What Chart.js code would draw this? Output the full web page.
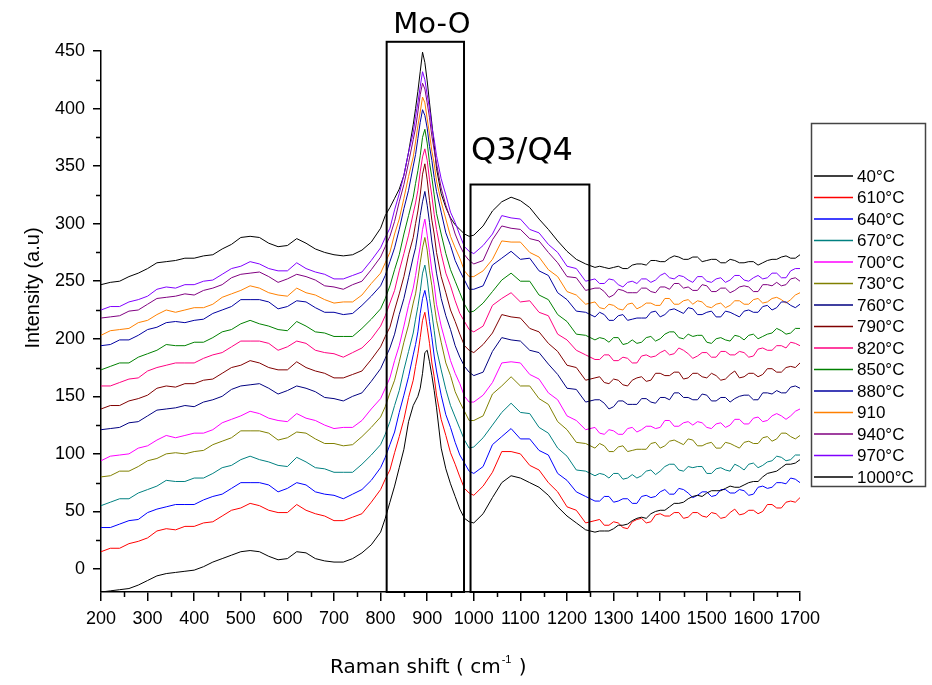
<!DOCTYPE html>
<html>
<head>
<meta charset="utf-8">
<script src="https://cdn.jsdelivr.net/npm/chart.js@4.4.1/dist/chart.umd.min.js"></script>
<style>
  html, body { margin: 0; padding: 0; background: #ffffff; }
  canvas { display: block; }
</style>
</head>
<body>
<canvas id="raman" width="932" height="685"></canvas>
<script>
// Raman shift (cm-1) sampling shared by all spectra
const wavenumber = [
  200,220,240,260,280,300,320,340,360,380,400,420,440,460,480,500,520,540,560,580,600,620,640,660,680,700,720,740,760,780,800,
  810,820,830,840,850,860,870,875,880,885,890,895,900,905,910,915,920,930,940,950,960,970,980,990,1000,
  1020,1040,1060,1080,1100,1120,1140,1160,1180,1200,1220,1240,
  1260,1270,1280,1290,1300,1310,1320,1330,1340,1350,1360,1370,1380,1390,1400,1410,1420,1430,1440,1450,1460,1470,1480,1490,1500,
  1510,1520,1530,1540,1550,1560,1570,1580,1590,1600,1610,1620,1630,1640,1650,1660,1670,1680,1690,1700
];

// Intensities (a.u.), one stacked spectrum per temperature
const t40 = [-20,-19,-18,-17,-14,-10,-6,-4,-3,-2,-1,2,6,9,12,15,16,15,11,8,9,15,14,9,7,6,6,9,14,21,32,
  44,58,72,88,104,128,142,146,150,157,170,188,190,180,168,155,140,105,87,74,63,52,44,41,40,
  48,62,75,81,79,75,71,64,54,46,40,34,
  32,33,33,33,35,38,38,39,42,44,45,44,48,50,51,51,54,57,57,58,61,63,64,63,66,68,68,68,70,72,71,71,73,75,76,76,80,83,84,85,88,91,91,92,95];
const t610 = [15,18,18,22,24,27,33,35,34,37,37,40,41,46,51,53,57,55,51,49,49,56,51,48,46,42,42,45,48,58,69,
  78,86,101,115,130,149,164,176,187,201,216,223,210,196,179,167,151,130,116,101,91,80,70,66,64,
  72,84,102,102,100,90,86,75,67,54,51,40,
  42,43,38,38,41,40,36,35,41,43,44,40,41,47,48,46,46,49,49,44,45,49,49,46,45,49,48,44,45,49,52,47,48,51,51,48,50,56,56,53,53,58,59,58,62];
const t640 = [36,36,39,42,43,49,52,54,56,56,56,60,63,65,70,75,75,75,73,67,70,75,73,67,65,64,61,65,69,77,88,
  97,108,119,136,151,167,186,195,206,222,235,242,232,215,201,185,172,151,134,123,110,99,92,85,83,
  89,108,115,122,113,113,103,99,83,77,67,63,
  59,59,63,63,58,59,61,61,57,57,63,64,62,63,67,69,65,65,70,69,66,62,64,67,67,63,64,69,69,66,66,69,68,64,65,71,72,70,71,75,75,74,79,78,75];
const t670 = [55,58,61,61,66,69,72,77,76,76,79,79,83,88,90,95,98,95,93,90,89,97,93,88,87,84,84,84,91,99,108,
  117,128,142,155,173,189,205,217,228,241,257,264,252,235,222,207,191,173,156,142,132,122,112,105,106,
  114,125,136,144,136,135,123,118,105,98,86,85,
  81,83,82,79,83,83,78,79,82,79,81,85,86,82,85,89,91,91,86,85,89,88,89,89,83,83,87,88,86,85,91,89,86,91,92,88,90,93,94,98,97,94,95,99,99];
const t700 = [94,98,99,100,105,107,112,116,114,116,118,118,121,127,130,133,137,135,131,129,128,135,131,129,125,122,123,123,129,139,148,
  157,166,181,194,211,229,244,255,268,280,295,304,290,275,259,247,230,211,196,181,170,161,150,145,145,
  151,162,179,180,179,169,165,153,147,133,129,121,
  123,118,117,121,120,117,117,122,123,119,121,124,124,122,123,129,129,124,124,127,128,125,128,127,123,122,126,127,123,125,130,130,126,126,131,132,128,129,133,135,133,130,133,137,139];
const t730 = [80,81,85,85,89,94,96,100,101,100,102,103,108,111,114,120,120,120,118,112,114,119,118,113,109,109,107,108,115,123,132,
  141,153,164,180,197,212,231,239,252,266,279,288,277,259,246,230,216,197,179,168,154,145,137,129,129,
  133,152,159,167,159,159,148,143,128,121,110,109,
  105,109,107,102,102,106,107,102,103,104,104,104,109,110,105,107,111,112,110,108,113,112,107,107,109,110,105,105,110,109,107,105,110,111,109,109,114,115,111,113,118,118,115,113,116];
const t760 = [121,122,123,127,128,133,138,139,140,142,141,145,147,150,156,159,160,161,157,152,155,159,157,154,149,148,146,150,153,163,174,
  183,192,204,221,235,253,271,279,292,307,319,328,316,301,284,271,257,235,220,208,194,184,176,171,168,
  171,189,201,199,198,190,188,178,169,157,156,145,
  147,147,144,139,141,146,146,143,143,143,148,148,145,144,149,149,147,153,153,149,149,147,147,152,151,146,146,149,149,145,148,150,151,151,147,147,153,153,152,155,153,153,158,159,157];
const t790 = [139,142,142,146,148,151,157,159,158,161,161,164,165,170,175,177,181,179,175,173,173,180,175,172,170,166,166,169,172,182,193,
  202,210,225,239,254,273,288,300,311,325,343,352,338,320,303,291,275,254,240,225,215,204,194,190,188,
  195,205,221,219,218,209,206,196,189,177,175,164,
  166,167,162,161,165,164,160,159,164,166,167,163,164,170,170,168,168,171,171,165,166,170,170,167,166,170,168,164,165,169,172,166,167,170,170,167,169,174,174,171,171,175,176,175,179];
const t820 = [159,159,162,165,166,172,175,177,179,179,179,183,186,188,193,198,198,198,196,190,193,198,196,190,188,187,184,188,192,200,211,
  220,231,242,259,274,290,309,318,329,345,358,365,355,338,324,308,295,274,257,246,233,222,215,208,206,
  211,229,235,240,232,233,223,220,204,199,190,186,
  182,182,186,186,181,181,184,183,179,179,185,186,184,185,188,190,186,187,192,190,187,183,185,188,188,184,184,189,189,186,186,189,188,184,185,191,192,190,190,194,194,192,197,196,194];
const t850 = [173,176,179,179,184,187,190,195,194,194,197,197,201,206,208,213,216,213,211,208,207,215,211,206,205,202,202,202,209,217,226,
  235,246,260,273,291,307,323,335,346,359,375,382,370,353,340,325,309,291,274,260,250,240,230,223,224,
  231,241,251,257,250,250,238,234,221,215,204,203,
  199,201,200,197,201,201,195,196,199,196,197,201,202,198,200,204,206,206,201,200,204,202,203,203,197,196,200,201,199,198,203,202,199,203,204,200,202,204,205,209,207,204,205,209,209];
const t880 = [194,195,199,199,203,208,210,214,215,214,216,217,222,225,228,234,234,234,232,226,228,233,232,227,223,223,221,222,229,237,246,
  255,267,279,295,313,329,350,360,374,388,399,394,383,367,355,340,328,310,292,281,268,259,251,243,243,
  246,264,270,276,269,270,259,255,240,234,224,223,
  219,223,221,216,216,220,221,216,217,218,218,218,223,224,219,221,225,226,224,222,227,226,221,221,223,224,219,219,224,223,221,219,224,225,223,223,228,229,225,227,232,232,229,227,230];
const t910 = [203,207,208,209,214,216,221,225,223,225,227,227,230,236,239,242,246,244,240,238,237,244,240,238,234,231,232,232,238,248,257,
  266,275,291,304,322,341,358,371,385,397,410,405,391,378,363,352,337,319,304,289,279,270,259,254,254,
  259,269,285,284,284,275,271,260,254,241,238,230,
  232,227,226,230,229,226,225,230,231,226,228,231,231,229,229,235,235,230,230,233,234,230,233,232,228,227,230,231,227,229,233,233,230,230,234,235,231,232,235,236,234,231,234,238,240];
const t940 = [218,219,220,224,225,230,235,236,237,239,238,242,244,247,253,256,257,258,254,249,252,256,254,251,246,245,243,247,250,260,271,
  280,289,302,319,334,353,373,383,397,412,422,417,405,392,376,364,352,331,316,304,291,281,273,268,265,
  268,286,298,296,295,287,285,275,266,254,253,242,
  244,244,241,236,238,243,242,240,240,240,244,244,241,240,245,245,243,248,248,244,245,242,242,247,246,241,241,244,244,240,242,245,246,245,241,241,247,247,246,249,246,247,252,253,250];
const t970 = [225,228,228,232,234,237,243,245,244,247,247,250,251,256,261,263,267,265,261,259,259,266,261,258,256,252,252,255,258,268,279,
  288,296,312,326,342,362,379,393,405,419,432,425,412,400,384,373,359,339,325,310,301,290,280,276,274,
  281,291,307,305,304,295,292,282,275,263,261,250,
  252,248,248,252,251,247,245,249,250,248,252,252,249,251,255,257,253,252,255,254,251,249,254,254,250,249,252,253,249,251,255,255,251,250,253,255,252,253,257,257,253,253,259,261,261];
const t1000 = [247,249,250,254,257,261,266,267,268,270,270,272,273,278,282,288,289,288,283,280,281,287,283,278,275,273,272,273,277,284,296,
  307,314,322,330,342,362,386,400,415,432,449,440,424,405,387,368,348,326,314,305,299,295,291,289,290,
  298,311,319,323,320,314,304,295,285,276,269,265,
  262,263,262,261,262,263,261,261,264,265,265,264,268,268,267,267,270,272,271,269,269,271,271,267,268,269,269,266,266,269,268,266,266,267,267,264,266,268,269,269,271,272,270,270,273];

const seriesNames = ['40°C','610°C','640°C','670°C','700°C','730°C','760°C','790°C','820°C','850°C','880°C','910','940°C','970°C','1000°C'];
const seriesValues = [t40,t610,t640,t670,t700,t730,t760,t790,t820,t850,t880,t910,t940,t970,t1000];
const seriesColors = ['#000000','#ff0000','#0000ff','#008080','#ff00ff','#808000','#000080','#800000','#ff0080','#008000','#0000a0','#ff8000','#800080','#8000ff','#000000'];

// Axis ticks
const xTicks = [200,300,400,500,600,700,800,900,1000,1100,1200,1300,1400,1500,1600,1700];
const xMinorTicks = [250,350,450,550,650,750,850,950,1050,1150,1250,1350,1450,1550,1650];
const yTicks = [0,50,100,150,200,250,300,350,400,450];
const yMinorTicks = [25,75,125,175,225,275,325,375,425];

// Band regions marked on the spectra: [from cm-1, to cm-1, top intensity]
const moORegion = [813, 979, 458];
const q3q4Region = [993, 1248, 334];

const tickFont = { family: "'Liberation Sans', Arial, sans-serif", size: 18 };
const handFont = "'Comic Sans MS', 'DejaVu Sans', sans-serif";

const decor = {
  id: 'decor',
  afterDraw(chart) {
    const c = chart.ctx;
    const xs = chart.scales.x, ys = chart.scales.y;
    const area = chart.chartArea;
    c.save();
    c.strokeStyle = '#000';
    c.fillStyle = '#000';

    // minor ticks
    c.lineWidth = 1.5;
    c.beginPath();
    xMinorTicks.forEach(v => {
      const px = Math.round(xs.getPixelForValue(v)) + 0.5;
      c.moveTo(px, area.bottom); c.lineTo(px, area.bottom + 5);
    });
    yMinorTicks.forEach(v => {
      const py = Math.round(ys.getPixelForValue(v)) + 0.5;
      c.moveTo(area.left, py); c.lineTo(area.left - 5, py);
    });
    c.stroke();

    // band boxes
    c.lineWidth = 2;
    [moORegion, q3q4Region].forEach(r => {
      const x0 = xs.getPixelForValue(r[0]), x1 = xs.getPixelForValue(r[1]);
      const y0 = ys.getPixelForValue(r[2]);
      c.strokeRect(x0, y0, x1 - x0, area.bottom - y0);
    });

    // band labels
    c.textAlign = 'center';
    c.textBaseline = 'middle';
    c.font = '29px ' + handFont;
    c.fillText('Mo-O', 432, 25);
    c.font = '32px ' + handFont;
    c.fillText('Q3/Q4', 522, 152);

    // x axis title with superscript
    c.textAlign = 'left';
    c.textBaseline = 'alphabetic';
    c.font = '20px ' + handFont;
    let tx = 330;
    const base = 673;
    const part1 = 'Raman shift ( cm';
    c.fillText(part1, tx, base);
    tx += c.measureText(part1).width;
    c.font = "11px 'Liberation Sans', Arial, sans-serif";
    c.fillText('-1', tx + 1, base - 10);
    tx += c.measureText('-1').width + 2;
    c.font = '20px ' + handFont;
    c.fillText(' )', tx, base);

    // y axis title
    c.save();
    c.translate(33, 288);
    c.rotate(-Math.PI / 2);
    c.textAlign = 'center';
    c.textBaseline = 'middle';
    c.font = "20px 'Liberation Sans', Arial, sans-serif";
    c.fillText('Intensity (a.u)', 0, 0);
    c.restore();

    // legend
    c.lineWidth = 1.5;
    c.strokeStyle = '#444';
    c.strokeRect(811.5, 123.5, 114, 363);
    c.font = "17px 'Liberation Sans', Arial, sans-serif";
    c.textAlign = 'left';
    c.textBaseline = 'middle';
    seriesNames.forEach((name, i) => {
      const y = 176 + 21.5 * i;
      c.strokeStyle = seriesColors[i];
      c.lineWidth = 1.5;
      c.beginPath();
      c.moveTo(814, y); c.lineTo(853, y);
      c.stroke();
      c.fillStyle = '#000';
      c.fillText(name, 857, y + 1);
    });
    c.restore();
  }
};

new Chart(document.getElementById('raman'), {
  type: 'line',
  data: {
    datasets: seriesValues.map((vals, i) => ({
      label: seriesNames[i],
      data: vals.map((v, j) => ({ x: wavenumber[j], y: v })),
      borderColor: seriesColors[i],
      borderWidth: 1,
      pointRadius: 0,
      tension: 0,
      fill: false
    }))
  },
  options: {
    responsive: false,
    animation: false,
    devicePixelRatio: 1,
    layout: { padding: { left: 0, right: 132, top: 51, bottom: 0 } },
    plugins: { legend: { display: false }, tooltip: { enabled: false } },
    scales: {
      x: {
        type: 'linear', min: 200, max: 1700,
        afterBuildTicks: a => { a.ticks = xTicks.map(v => ({ value: v })); },
        afterFit: s => { s.height = 93; },
        grid: { drawOnChartArea: false, drawTicks: true, tickLength: 9, color: '#000', lineWidth: 1.5 },
        border: { display: true, color: '#000', width: 1.5 },
        ticks: { font: tickFont, color: '#000', padding: 7, maxRotation: 0, autoSkip: false, callback: v => String(v) }
      },
      y: {
        type: 'linear', min: -20, max: 450,
        afterBuildTicks: a => { a.ticks = yTicks.map(v => ({ value: v })); },
        afterFit: s => { s.width = 101; },
        grid: { drawOnChartArea: false, drawTicks: true, tickLength: 8, color: '#000', lineWidth: 1.5 },
        border: { display: true, color: '#000', width: 1.5 },
        ticks: { font: tickFont, color: '#000', padding: 8, callback: v => String(v) }
      }
    }
  },
  plugins: [decor]
});
</script>
</body>
</html>
